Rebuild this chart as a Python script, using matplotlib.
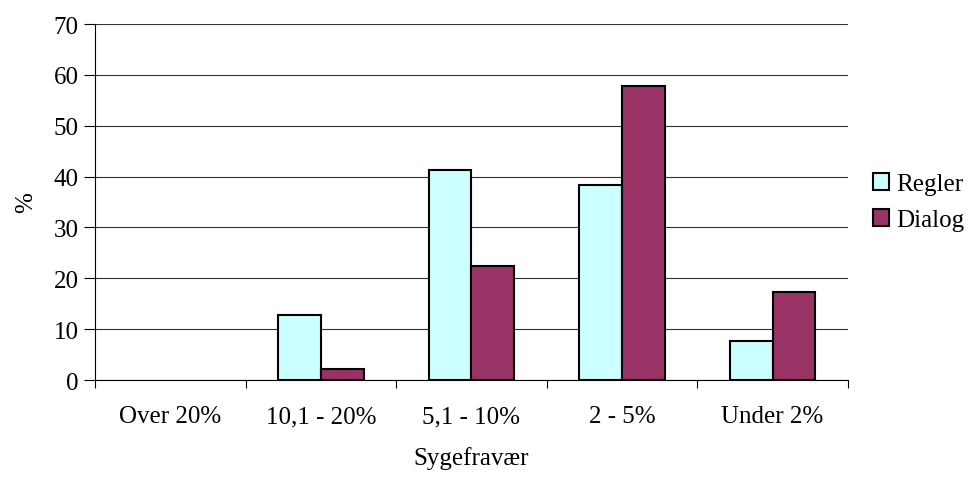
import matplotlib.pyplot as plt
from matplotlib.patches import Patch
import numpy as np

plt.rcParams['font.family'] = ['Liberation Serif', 'DejaVu Serif']

categories = ['Over 20%', '10,1 - 20%', '5,1 - 10%', '2 - 5%', 'Under 2%']
regler = [0, 12.7, 41.3, 38.3, 7.7]
dialog = [0, 2.2, 22.4, 57.8, 17.4]
yticks = [0, 10, 20, 30, 40, 50, 60, 70]

fs = 18
c_regler = '#CCFFFF'
c_dialog = '#993366'

fig = plt.figure(figsize=(9.7, 4.85), dpi=100)
ax = fig.add_axes([0.098, 0.2144, 0.776, 0.734])

x = np.arange(len(categories))
w = 0.285
# empty bars get no outline
ax.bar(x - w / 2, regler, w, color=c_regler, edgecolor='black',
       linewidth=[1.5 if v > 0 else 0 for v in regler], zorder=3)
ax.bar(x + w / 2, dialog, w, color=c_dialog, edgecolor='black',
       linewidth=[1.5 if v > 0 else 0 for v in dialog], zorder=3)

ax.set_xlim(-0.5, len(categories) - 0.5)
ax.set_ylim(0, 70)
ax.set_yticks(yticks)
ax.yaxis.grid(True, color='#333333', linewidth=0.8, zorder=0)

# category labels centred, tick marks between the groups
ax.set_xticks(x)
ax.set_xticklabels(categories, fontsize=fs)
ax.tick_params(axis='x', which='major', length=0, pad=18)
ax.set_xticks(np.arange(-0.5, len(categories)), minor=True)
ax.tick_params(axis='x', which='minor', length=6, width=0.8, direction='out')
ax.tick_params(axis='y', labelsize=fs, length=8, width=0.8, direction='out', pad=4)

for side in ['top', 'right']:
    ax.spines[side].set_visible(False)
ax.spines['left'].set_linewidth(0.8)
ax.spines['bottom'].set_linewidth(0.8)

ax.set_xlabel('Sygefravær', fontsize=fs, labelpad=14)
ax.set_ylabel('%', fontsize=fs, labelpad=12)

handles = [Patch(facecolor=c_regler, edgecolor='black', linewidth=1.5, label='Regler'),
           Patch(facecolor=c_dialog, edgecolor='black', linewidth=1.5, label='Dialog')]
ax.legend(handles=handles, loc='center left', bbox_to_anchor=(1.0, 0.5),
          frameon=False, fontsize=fs, handlelength=0.65, handleheight=0.65,
          handletextpad=0.3, labelspacing=0.55, borderaxespad=0.6)

fig.savefig('out.png', dpi=100)
